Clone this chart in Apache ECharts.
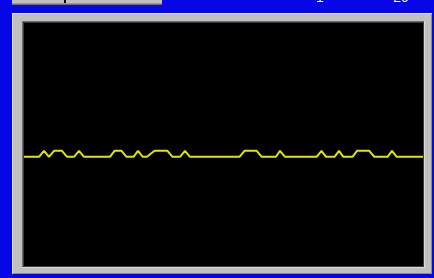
<!DOCTYPE html>
<html>
<head>
<meta charset="utf-8">
<script src="https://cdn.jsdelivr.net/npm/echarts@6/dist/echarts.min.js"></script>
<style>
html,body{margin:0;padding:0;background:#0606e6;}
#c{width:434px;height:278px;}
</style>
</head>
<body>
<div id="c"></div>
<script>
// Signal trace: sample positions (x, in plot units from the left edge) and levels (0 = low, 1 = high)
var traceX = [0, 15, 20, 25, 30, 38, 43, 50, 55, 60, 86, 90.5, 97.5, 102.5, 109.5, 114, 118.8, 123, 130.5, 143.5, 148.5, 156, 161, 166, 215.5, 220.5, 232.7, 237.7, 252, 256, 261, 292.7, 297.5, 302, 310.5, 315, 319.3, 328.5, 333, 345.3, 350.3, 363.5, 368, 372.7, 399];
var traceY = [0, 0, 1, 0, 1, 1, 0, 0, 1, 0, 0, 1, 1, 0, 0, 1, 0, 0, 1, 1, 0, 0, 1, 0, 0, 1, 1, 0, 0, 1, 0, 0, 1, 0, 0, 1, 0, 0, 1, 1, 0, 0, 1, 0, 0];
var headerLabels = ['1', '20'];

var points = traceX.map(function (x, i) { return [x, traceY[i]]; });

var chart = echarts.init(document.getElementById('c'), null, {renderer: 'canvas'});
chart.setOption({
  animation: false,
  backgroundColor: '#0606e6',
  grid: {left: 24, top: 23, width: 399, height: 243, show: false},
  xAxis: {type: 'value', min: 0, max: 399, show: false},
  yAxis: {type: 'value', min: -18.2, max: 22.3, show: false},
  graphic: [
    // header button (clipped at top)
    {type: 'rect', z: 0, shape: {x: 12, y: -4, width: 150, height: 8}, style: {fill: '#c0c0c0'}},
    {type: 'rect', z: 0, shape: {x: 12, y: 3.5, width: 150, height: 1.5}, style: {fill: '#77773a'}},
    {type: 'rect', z: 0, shape: {x: 64, y: 0, width: 2, height: 3}, style: {fill: '#000000'}},
    {type: 'text', z: 0, style: {text: headerLabels[0], x: 320, y: 5, fill: '#ffffff', fontFamily: 'Liberation Sans', fontSize: 14, align: 'center', verticalAlign: 'bottom'}},
    {type: 'text', z: 0, style: {text: headerLabels[1], x: 401, y: 5, fill: '#ffffff', fontFamily: 'Liberation Sans', fontSize: 14, align: 'center', verticalAlign: 'bottom'}},
    // frame
    {type: 'rect', z: 0, shape: {x: 12, y: 13, width: 420, height: 261}, style: {fill: '#e2e2e2'}},
    {type: 'rect', z: 0, shape: {x: 13, y: 14, width: 419, height: 260}, style: {fill: '#8a8a8a'}},
    {type: 'rect', z: 0, shape: {x: 13, y: 14, width: 418, height: 259}, style: {fill: '#c0c0c0'}},
    {type: 'rect', z: 0, shape: {x: 22, y: 21, width: 403, height: 247}, style: {fill: '#dcdcdc'}},
    {type: 'rect', z: 0, shape: {x: 22, y: 21, width: 402, height: 246}, style: {fill: '#6e6e6e'}},
    {type: 'rect', z: 0, shape: {x: 23, y: 22, width: 401, height: 245}, style: {fill: '#3a3a3a'}},
    {type: 'rect', z: 0, shape: {x: 24, y: 23, width: 399, height: 243}, style: {fill: '#000000'}}
  ],
  series: [{
    type: 'line',
    z: 10,
    data: points,
    symbol: 'none',
    lineStyle: {color: '#e4e400', width: 2},
    clip: true
  }]
});
</script>
</body>
</html>
